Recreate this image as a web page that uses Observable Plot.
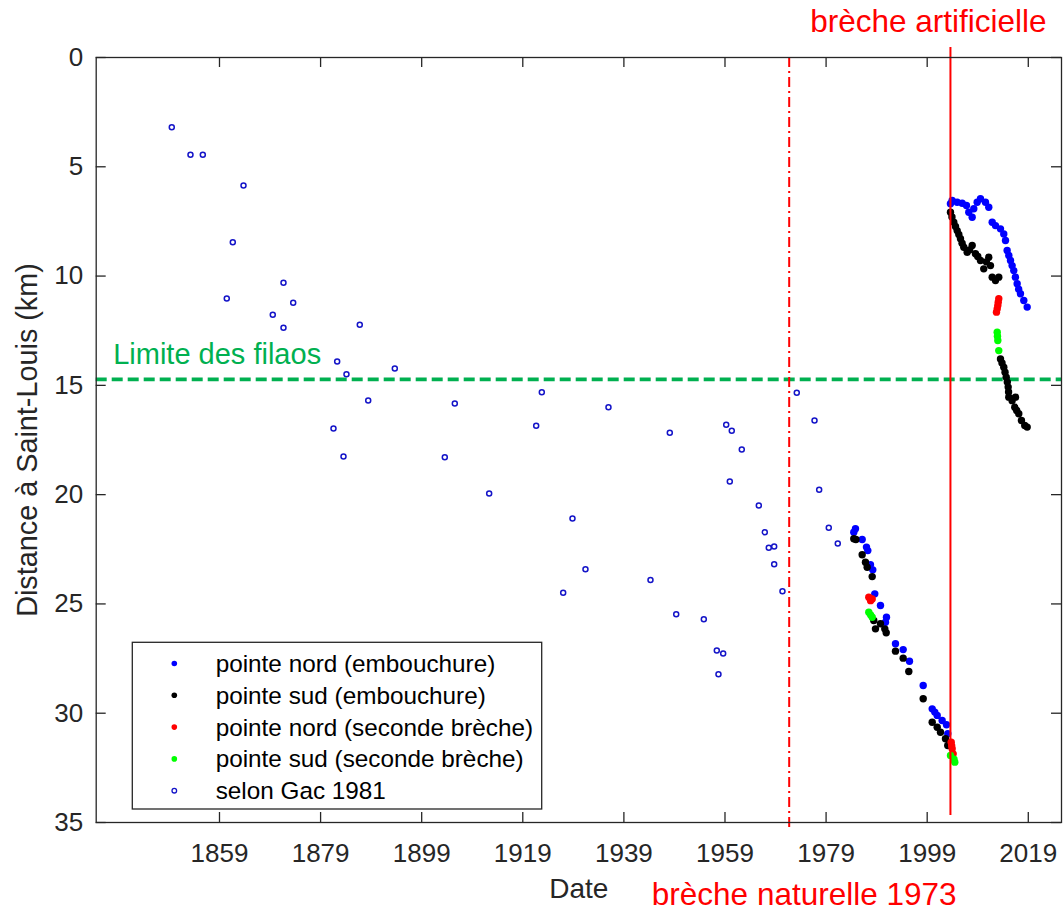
<!DOCTYPE html>
<html><head><meta charset="utf-8">
<script src="https://cdn.jsdelivr.net/npm/d3@7"></script>
<script src="https://cdn.jsdelivr.net/npm/@observablehq/plot@0.6"></script>
<style>body{margin:0;background:#fff;} #chart{width:1063px;height:912px;}</style>
</head><body><div id="chart"></div>
<script>
const xTicks = [1859,1879,1899,1919,1939,1959,1979,1999,2019];
const yTicks = [0,5,10,15,20,25,30,35];
const breachNatural = 1971.7;
const breachArtificial = 2003.6;
const filaosLimit = 14.73;
const labelNatural = "brèche naturelle 1973";
const labelArtificial = "brèche artificielle";
const labelFilaos = "Limite des filaos";
const seriesNames = ["pointe nord (embouchure)","pointe sud (embouchure)","pointe nord (seconde brèche)","pointe sud (seconde brèche)","selon Gac 1981"];

const gac = [[1849.56,3.19],[1853.26,4.45],[1855.70,4.45],[1863.75,5.86],[1861.63,8.45],[1860.44,11.03],[1871.66,10.31],[1873.58,11.22],[1869.54,11.77],[1871.66,12.37],[1886.75,12.23],[1882.28,13.91],[1884.12,14.49],[1893.68,14.23],[1888.42,15.69],[1881.55,16.97],[1883.53,18.26],[1905.55,15.83],[1903.57,18.29],[1912.35,19.95],[1922.76,15.31],[1921.65,16.85],[1928.83,21.09],[1931.40,23.41],[1926.99,24.49],[1935.95,16.00],[1944.26,23.90],[1948.08,17.17],[1949.35,25.47],[1954.81,25.70],[1959.24,16.80],[1960.34,17.08],[1962.32,17.93],[1959.95,19.40],[1957.38,27.13],[1958.64,27.27],[1957.71,28.22],[1965.69,20.50],[1966.87,21.72],[1967.66,22.43],[1968.73,22.37],[1968.73,23.18],[1970.37,24.42],[1973.20,15.34],[1976.71,16.61],[1977.63,19.78],[1979.53,21.52],[1981.31,22.24]];

const nordEmb = [[1984.81,21.56],[1984.48,21.72],[1986.14,22.05],[1986.99,22.40],[1987.25,22.56],[1987.78,23.21],[1988.24,23.44],[1988.63,24.54],[1989.76,25.07],[1990.95,25.61],[1990.75,25.84],[1992.73,26.82],[1994.25,27.09],[1995.50,27.62],[1998.21,28.73],[1999.99,29.80],[2000.5,29.95],[2000.98,30.10],[2001.96,30.33],[2002.82,30.53],[2003.07,30.94],
[2003.6,6.69],[2003.94,6.54],[2004.93,6.62],[2005.92,6.67],[2006.77,6.77],[2007.23,7.08],[2007.90,7.31],[2008.22,6.92],[2008.89,6.62],[2009.54,6.46],[2010.53,6.62],[2011.18,6.85],[2011.86,7.54],[2012.51,7.69],[2013.50,7.84],[2014.15,8.07],[2014.49,8.37],[2014.82,8.83],[2015.15,9.06],[2015.48,9.29],[2015.80,9.52],[2016.13,9.75],[2016.45,10.05],[2016.80,10.35],[2017.10,10.60],[2017.45,10.81],[2018.11,11.12],[2018.78,11.42]];

const sudEmb = [[1984.48,22.02],[1984.9,22.05],[1986.14,22.75],[1986.79,23.09],[1987.13,23.32],[1988.12,23.75],[1988.43,25.76],[1988.77,26.14],[1989.76,25.91],[1990.61,26.14],[1990.89,26.32],[1992.73,27.16],[1994.25,27.48],[1995.36,28.09],[1998.21,29.34],[1999.99,30.41],[2000.98,30.64],[2001.63,30.87],[2002.62,31.17],[2003.07,31.48],
[2003.61,7.08],[2003.9,7.3],[2004.26,7.54],[2004.6,7.73],[2004.93,7.92],[2005.26,8.1],[2005.59,8.29],[2005.9,8.5],[2006.24,8.68],[2006.91,8.91],[2007.4,8.8],[2007.90,8.60],[2008.55,8.98],[2009.0,9.1],[2009.54,9.29],[2010.19,9.67],[2010.7,9.35],[2011.18,9.14],[2011.52,9.52],[2011.86,10.05],[2012.51,10.20],[2013.16,10.05],
[2013.50,13.79],[2013.8,13.98],[2014.15,14.17],[2014.4,14.4],[2014.63,14.63],[2014.85,14.85],[2015.02,15.08],[2015.1,15.3],[2015.14,15.54],[2015.8,15.7],[2016.46,15.54],[2016.33,16.00],[2016.7,16.15],[2017.12,16.30],[2017.65,16.61],[2018.30,16.84],[2018.78,16.91]];

const nordSec = [[1987.45,24.69],[1988.12,24.77],[1987.8,24.85],[2003.75,31.33],[2003.85,31.5],[2003.94,31.63],[2004.14,31.86],[2013.16,11.04],[2013.05,11.2],[2012.97,11.35],[2012.85,11.5],[2012.71,11.65]];

const sudSec = [[1987.45,25.38],[1987.8,25.5],[1988.12,25.61],[2003.61,31.93],[2004.3,32.1],[2004.46,32.24],[2012.85,12.57],[2012.9,12.75],[2012.97,12.95],[2013.16,13.41]];

const colors = ["#0000ff","#000000","#ff0000","#00ff00","#1414c8"];
const ink = "#262626";
const W = 1063, H = 912, mL = 95.7, mR = 2, mT = 57, mB = 90;
const fw = W - mL - mR, fh = H - mT - mB;
const px = d => d[0], py = d => d[1];

const svg = Plot.plot({
  width: W, height: H, marginLeft: mL, marginRight: mR, marginTop: mT, marginBottom: mB,
  x: {domain: [1834.61, 2025.57], axis: null},
  y: {domain: [0, 35], reverse: true, axis: null},
  style: {fontFamily: "Liberation Sans, Arial, sans-serif", background: "#fff", overflow: "visible"},
  marks: [
    Plot.ruleY([filaosLimit], {y: d => d, stroke: "#00b050", strokeWidth: 3.8, strokeDasharray: "11,5"}),
    Plot.text([labelFilaos], {y: () => filaosLimit, frameAnchor: "left", textAnchor: "start", lineAnchor: "middle", dx: 17, dy: -25, fontSize: 29, fill: "#00b050"}),
    Plot.ruleX([breachNatural], {x: d => d, stroke: "#ff0000", strokeWidth: 2, strokeDasharray: "10,4,2,4", insetBottom: -5}),
    Plot.dot(nordEmb, {x: px, y: py, r: 3.7, fill: colors[0]}),
    Plot.dot(sudEmb, {x: px, y: py, r: 3.7, fill: colors[1]}),
    Plot.dot(nordSec, {x: px, y: py, r: 3.7, fill: colors[2]}),
    Plot.dot(sudSec, {x: px, y: py, r: 3.7, fill: colors[3]}),
    Plot.dot(gac, {x: px, y: py, r: 2.5, stroke: colors[4], strokeWidth: 1.5, fill: "none"}),
    Plot.ruleX([breachArtificial], {x: d => d, stroke: "#ff0000", strokeWidth: 2, insetTop: -10, insetBottom: 7}),
    Plot.frame({stroke: ink, strokeWidth: 1.3}),
    Plot.ruleX(xTicks, {x: d => d, stroke: ink, strokeWidth: 1.3, insetTop: fh - 10}),
    Plot.ruleX(xTicks, {x: d => d, stroke: ink, strokeWidth: 1.3, insetBottom: fh - 10}),
    Plot.ruleY(yTicks, {y: d => d, stroke: ink, strokeWidth: 1.3, insetRight: fw - 10}),
    Plot.ruleY(yTicks, {y: d => d, stroke: ink, strokeWidth: 1.3, insetLeft: fw - 10}),
    Plot.text(xTicks, {x: d => d, text: d => String(d), frameAnchor: "bottom", lineAnchor: "middle", textAnchor: "middle", dy: 31, fontSize: 26, fill: ink}),
    Plot.text(yTicks, {y: d => d, text: d => String(d), frameAnchor: "left", lineAnchor: "middle", textAnchor: "end", dx: -13, fontSize: 26, fill: ink}),
    Plot.text(["Date"], {frameAnchor: "bottom", lineAnchor: "middle", textAnchor: "middle", dy: 67, fontSize: 28, fill: ink}),
    Plot.text(["Distance à Saint-Louis (km)"], {frameAnchor: "left", lineAnchor: "middle", textAnchor: "middle", dx: -68, rotate: -90, fontSize: 28.8, fill: ink}),
    Plot.text([labelArtificial], {x: () => breachArtificial, frameAnchor: "top", lineAnchor: "middle", textAnchor: "middle", dx: -22, dy: -36, fontSize: 31.5, fill: "#ff0000"}),
    Plot.text([labelNatural], {x: () => breachNatural, frameAnchor: "bottom", lineAnchor: "middle", textAnchor: "middle", dx: 15, dy: 72, fontSize: 31.5, fill: "#ff0000"})
  ]
});

// legend box (decoration, pixel layout)
const g = d3.select(svg).append("g").attr("font-family", "Liberation Sans, Arial, sans-serif").attr("text-anchor", "start");
g.append("rect").attr("x", 132.3).attr("y", 642.3).attr("width", 409.4).attr("height", 166.7)
  .attr("fill", "#fff").attr("stroke", ink).attr("stroke-width", 1.3);
seriesNames.forEach((name, i) => {
  const cy = 663.5 + i * 31.8;
  const c = g.append("circle").attr("cx", 174.3).attr("cy", cy);
  if (i < 4) c.attr("r", 2.8).attr("fill", colors[i]);
  else c.attr("r", 2.3).attr("fill", "none").attr("stroke", colors[i]).attr("stroke-width", 1.3);
  g.append("text").attr("x", 215.7).attr("y", cy).attr("dy", "0.35em").attr("font-size", 24.3)
    .attr("text-anchor", "start").attr("fill", "#000").text(name);
});

document.getElementById("chart").appendChild(svg);
</script>
</body></html>
